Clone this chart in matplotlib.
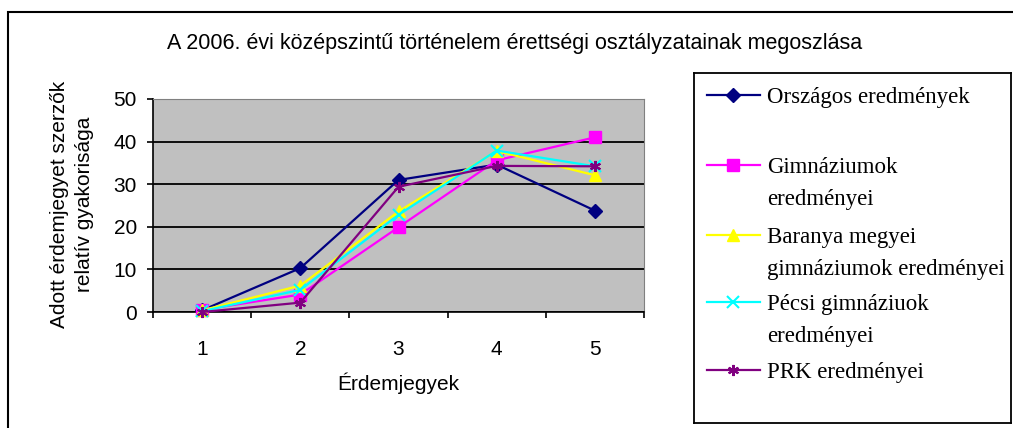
import matplotlib.pyplot as plt
from matplotlib.patches import Rectangle

# Érdemjegyek (grades) and relative frequencies (%)
grades = [1, 2, 3, 4, 5]
orszagos = [0.4, 10.3, 31.0, 34.6, 23.8]
gimnaziumok = [0.5, 4.1, 19.9, 35.6, 41.0]
baranya = [0.4, 6.2, 23.6, 37.8, 32.1]
pecsi = [0.2, 5.2, 22.8, 37.9, 34.2]
prk = [0.0, 2.2, 29.4, 34.3, 34.2]

labels = ['Országos eredmények',
          'Gimnáziumok\neredményei',
          'Baranya megyei\ngimnáziumok eredményei',
          'Pécsi gimnáziuok\neredményei',
          'PRK eredményei']
series = [orszagos, gimnaziumok, baranya, pecsi, prk]
colors = ['#000080', '#FF00FF', '#FFFF00', '#00FFFF', '#800080']
markers = ['D', 's', '^', 'x', (6, 2, 0)]
msizes = [7, 8, 8, 8, 8]

W, H = 1013, 428
fig = plt.figure(figsize=(W / 100, H / 100), dpi=100)
plt.rcParams['font.family'] = ['Liberation Sans', 'DejaVu Sans']
FS = 15

def box(x0, y0, x1, y1):
    # pixel box -> figure fraction [left, bottom, width, height]
    return [x0 / W, 1 - y1 / H, (x1 - x0) / W, (y1 - y0) / H]

def fx(x):
    return x / W

def fy(y):
    return 1 - y / H

# outer chart border
fig.patches.append(Rectangle((fx(8), -0.1), 1.2, fy(12) + 0.1,
                             transform=fig.transFigure, fill=False,
                             edgecolor='black', linewidth=1.5))

ax = fig.add_axes(box(153, 99, 644, 312))
ax.set_facecolor('#C0C0C0')
for i, vals in enumerate(series):
    ax.plot(grades, vals, color=colors[i], marker=markers[i],
            markersize=msizes[i], linewidth=1.6,
            markeredgewidth=1.5 if i >= 3 else 1, clip_on=False, zorder=3)

ax.set_xlim(0.5, 5.5)
ax.set_ylim(0, 50)
ax.set_yticks([0, 10, 20, 30, 40, 50])
ax.set_xticks([0.5, 1.5, 2.5, 3.5, 4.5, 5.5])
ax.set_xticklabels([])
ax.set_xticks(grades, minor=True)
ax.set_xticklabels([str(g) for g in grades], minor=True)
ax.tick_params(axis='x', which='minor', length=0, pad=20, labelsize=FS)
ax.tick_params(axis='x', which='major', length=4.5, width=1.2, direction='out')
ax.tick_params(axis='y', length=4.5, width=1.2, direction='out', labelsize=FS, pad=7)
ax.yaxis.grid(True, color='black', linewidth=1.3)
ax.set_axisbelow(True)
ax.spines['left'].set_linewidth(1.2)
ax.spines['bottom'].set_linewidth(1.2)
ax.spines['top'].set_color('#808080')
ax.spines['right'].set_color('#808080')

fig.text(fx(398), fy(383), 'Érdemjegyek', ha='center', va='center', fontsize=FS)
fig.text(fx(72), fy(204), 'Adott érdemjegyet szerzők\nrelatív gyakorisága',
         ha='center', va='center', rotation=90, fontsize=FS,
         multialignment='center', linespacing=1.45)

fig.text(fx(515), fy(43),
         'A 2006. évi középszintű történelem érettségi osztályzatainak megoszlása',
         ha='center', va='center', fontsize=15.5)

# legend box, drawn by hand so that the markers align with the first line
lax = fig.add_axes(box(694, 73, 1011, 423))
lax.set_xlim(694, 1011)
lax.set_ylim(423, 73)
lax.set_xticks([])
lax.set_yticks([])
for s in lax.spines.values():
    s.set_linewidth(1.3)
rows = [95, 165, 235, 302, 370]
for i, yy in enumerate(rows):
    lax.plot([707, 760], [yy, yy], color=colors[i], linewidth=1.6)
    lax.plot([733], [yy], color=colors[i], marker=markers[i],
             markersize=msizes[i], markeredgewidth=1.5 if i >= 3 else 1)
    for j, part in enumerate(labels[i].split('\n')):
        lax.text(767, yy + 8 + 32 * j, part, ha='left', va='baseline',
                 fontsize=16.5, family=['Liberation Serif', 'DejaVu Serif'])

fig.savefig('out.png', dpi=100)
